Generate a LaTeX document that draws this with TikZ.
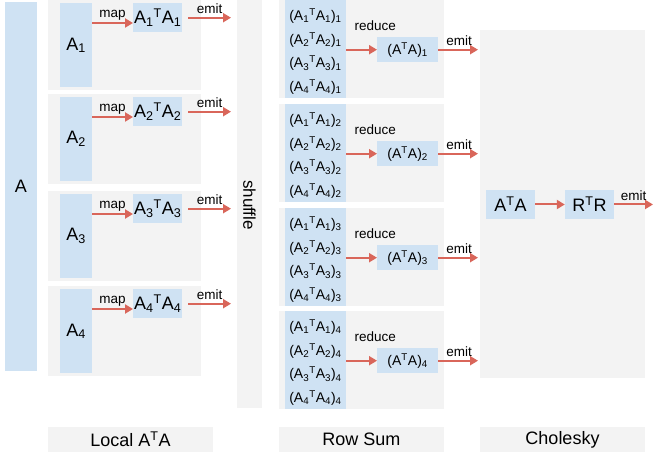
\documentclass[tikz,border=0pt]{standalone}
\usepackage{fontspec}
\setmainfont{Liberation Sans}
\usetikzlibrary{positioning, arrows.meta}
\definecolor{blockblue}{HTML}{CFE2F3}
\definecolor{panelgray}{HTML}{F3F3F3}
\definecolor{flowred}{HTML}{D9665A}
\newcommand{\prodAA}[2]{A\textsubscript{#1}\textsuperscript{T}A\textsubscript{#2}}

\begin{document}
\begin{tikzpicture}[x=1pt, y=-1pt,
  panel/.style={fill=panelgray, inner sep=0pt, anchor=north west},
  blk/.style={fill=blockblue, inner sep=0pt},
  big/.style={font=\fontsize{18}{20}\selectfont},
  small/.style={font=\fontsize{14}{16}\selectfont},
  tag/.style={font=\fontsize{13.5}{15}\selectfont, inner sep=0pt},
  flow/.style={draw=flowred, line width=2pt, -{Triangle[length=8pt,width=9pt]}}]
\useasboundingbox (0,0) rectangle (653,457);
%
\node[blk, big, minimum width=32pt, minimum height=369pt] (A) at (21,186.5) {A};
\node[panel, minimum width=25pt, minimum height=408pt] (shuffle) at (237,0) {};
\node[font=\fontsize{17}{19}\selectfont, rotate=-90] (shuf) at (249.5,205) {shuffle};
\node[panel, minimum width=165pt, minimum height=348pt] (chol) at (480,30) {};

% local A^T A
\foreach \k/\t in {1/0,2/94,3/191,4/286} {
  \node[panel, minimum width=153pt, minimum height=90pt] (loc\k) at (48,\t) {};
  \node[blk, big, minimum width=32pt, minimum height=84pt, anchor=north west] (a\k) at (60,\t+3) {A\textsubscript{\k}};
  \node[blk, big, minimum width=49pt, minimum height=29pt, anchor=north west] (p\k) at (133,\t+3) {\prodAA{\k}{\k}};
  \coordinate (m\k) at (92,\t+23);
  \draw[flow] (m\k) -- (m\k -| p\k.west) node[midway, above=2pt, tag] {map};
  \draw[flow, shorten <=6pt, shorten >=6pt] (p\k.east) -- (p\k.east -| shuffle.west) node[midway, above=3pt, tag] {emit};
}

% row sum
\foreach \k/\r in {1/0,2/104,3/208,4/311} {
  \node[panel, minimum width=165pt, minimum height=98pt] (rs\k) at (279,\r) {};
  \node[blk, minimum width=61pt, minimum height=98pt, anchor=north west] (col\k) at (285,\r) {};
  \foreach \j in {1,...,4}
    \node[small, inner sep=0pt] (e\k\j) at (315.5,\r+16+23.7*\j-23.7) {(\prodAA{\j}{\j})\textsubscript{\k}};
  \node[blk, small, minimum width=61pt, minimum height=25pt, anchor=north west] (red\k) at (377,\r+37) {(A\textsuperscript{T}A)\textsubscript{\k}};
  \draw[flow] (col\k.east |- red\k) -- (red\k.west);
  \node[tag] (rl\k) at ([xshift=-32.5pt, yshift=11pt]red\k.north) {reduce};
  \draw[flow, shorten >=2pt] (red\k.east) -- (red\k.east -| chol.west) node[midway, above=3pt, tag] {emit};
}

% cholesky
\node[blk, big, minimum width=49pt, minimum height=29pt] (ata) at (510.5,204.5) {A\textsuperscript{T}A};
\node[blk, big, minimum width=49pt, minimum height=29pt] (rtr) at (589.5,204.5) {R\textsuperscript{T}R};
\coordinate (out) at (653,204.5);
\draw[flow] (ata) -- (rtr);
\draw[flow] (rtr) -- (out) node[midway, above=3pt, tag] {emit};

% stage labels
\node[fill=panelgray, big, minimum width=165pt, minimum height=25pt] (lblloc) at (130.5,439.5) {Local A\textsuperscript{T}A};
\node[fill=panelgray, big, minimum width=165pt, minimum height=25pt] (lblrow) at (361.5,439.5) {Row Sum};
\node[fill=panelgray, big, minimum width=165pt, minimum height=25pt] (lblchol) at (562.5,439.5) {Cholesky};
\end{tikzpicture}
\end{document}
